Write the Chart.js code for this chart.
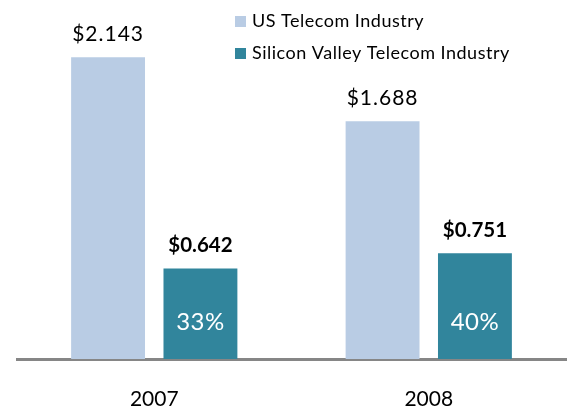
<!DOCTYPE html>
<html>
<head>
<meta charset="utf-8">
<script src="https://cdn.jsdelivr.net/npm/chart.js@4/dist/chart.umd.min.js"></script>
<style>
  html, body { margin: 0; padding: 0; background: #ffffff; }
  #wrap { width: 569px; height: 409px; }
</style>
</head>
<body>
<div id="wrap"><canvas id="chart" width="569" height="409"></canvas></div>
<script>
// Annual revenue figures (billions) for each segment
const years = ['2007', '2008'];
const usTelecom = [2.143, 1.688];
const siliconValley = [0.642, 0.751];
const svShare = [33, 40];          // Silicon Valley share, percent
const seriesNames = ['US Telecom Industry', 'Silicon Valley Telecom Industry'];
const seriesColors = ['#b9cce4', '#31859c'];

const FONT = 'Lato, "Open Sans", sans-serif';

// Draws dollar values above bars, share percentages inside the teal bars, and the legend
const labelPlugin = {
  id: 'barLabels',
  afterDatasetsDraw(chart) {
    const ctx = chart.ctx;
    ctx.save();
    ctx.textAlign = 'center';
    ctx.textBaseline = 'middle';
    chart.data.datasets.forEach((ds, di) => {
      const meta = chart.getDatasetMeta(di);
      meta.data.forEach((bar, i) => {
        const v = ds.data[i];
        ctx.fillStyle = '#000000';
        if (di === 1) {
          ctx.font = 'bold 20.5px ' + FONT;
          ctx.letterSpacing = '0px';
        } else {
          ctx.font = '21px ' + FONT;
          ctx.letterSpacing = '1px';
        }
        ctx.fillText('$' + v.toFixed(3), bar.x, bar.y - 23);
        if (di === 1) {
          ctx.fillStyle = '#ffffff';
          ctx.font = '24px ' + FONT;
          ctx.letterSpacing = '0.5px';
          ctx.fillText(svShare[i] + '%', bar.x, bar.base - 37);
        }
      });
    });
    // legend
    const lx = 235, ly = [21, 53];
    ctx.textAlign = 'left';
    ctx.font = '18px ' + FONT;
    ctx.letterSpacing = '0.5px';
    seriesNames.forEach((name, k) => {
      ctx.fillStyle = seriesColors[k];
      ctx.fillRect(lx, ly[k] - 5, 11, 11);
      ctx.fillStyle = '#000000';
      ctx.fillText(name, lx + 17, ly[k]);
    });
    ctx.restore();
  }
};

new Chart(document.getElementById('chart'), {
  type: 'bar',
  data: {
    labels: years,
    datasets: [
      { label: seriesNames[0], data: usTelecom, backgroundColor: seriesColors[0] },
      { label: seriesNames[1], data: siliconValley, backgroundColor: seriesColors[1] }
    ]
  },
  options: {
    responsive: false,
    animation: false,
    devicePixelRatio: 1,
    layout: { padding: { left: 17, right: 3, top: 21, bottom: 0 } },
    datasets: { bar: { categoryPercentage: 0.673, barPercentage: 0.8 } },
    plugins: { legend: { display: false }, tooltip: { enabled: false } },
    scales: {
      x: {
        grid: { display: false, drawTicks: false },
        border: { display: true, color: '#868686', width: 3 },
        ticks: { color: '#000000', font: { family: FONT, size: 21 }, padding: 28 },
        afterFit(scale) { scale.height = 50; }
      },
      y: { display: false, min: 0, max: 2.4 }
    }
  },
  plugins: [labelPlugin]
});
</script>
</body>
</html>
